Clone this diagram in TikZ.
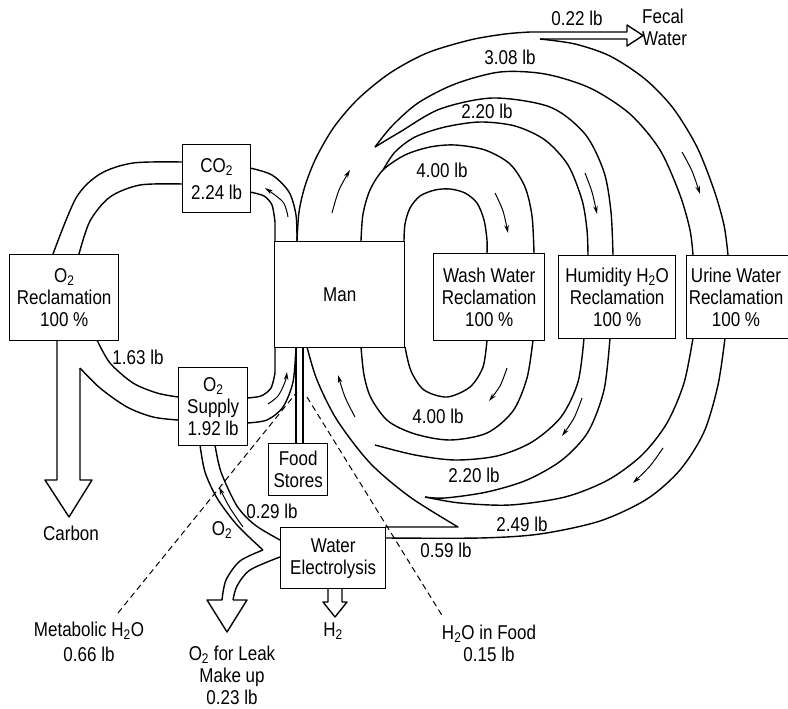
\documentclass[tikz,border=0pt]{standalone}
\usepackage{fontspec}
\setmainfont{Liberation Sans}[FakeStretch=0.85]
\usetikzlibrary{arrows.meta}

\begin{document}
\begin{tikzpicture}[x=1pt, y=-1pt,
  box/.style={draw, fill=white, line width=1.4pt, inner sep=0pt, align=center, anchor=north west, font=\fontsize{20}{22}\selectfont},
  lbl/.style={inner sep=0pt, align=center, font=\fontsize{20}{22}\selectfont},
  band/.style={line width=1.4pt, line join=round},
  flow/.style={line width=1pt, -{Stealth[length=8pt, width=4.5pt]}},
  feed/.style={line width=1pt, dash pattern=on 6pt off 4pt},
  ]
  \clip (0,0) rectangle (788,709);
  \fill[white] (0,0) rectangle (788,709);
  % CO2 loop
  \draw[band] plot[smooth] coordinates {(250,168) (272,175) (289,192) (296,215) (297,241)};
  \draw[band] plot[smooth] coordinates {(250,192) (264,196) (272,205) (275,222)} -- (275,373);
  \draw[band] plot[smooth] coordinates {(275,373) (271,388) (261,396) (247,398)};
  \draw[band] plot[smooth] coordinates {(182,162) (133,163) (100,174) (76,198) (53,254)};
  \draw[band] plot[smooth] coordinates {(182,184) (140,185) (110,197) (90,221) (79,254)};
  \draw[band] plot[smooth] coordinates {(97,340) (110,363) (133,383) (157,393) (178,397)};
  \draw[band] plot[smooth] coordinates {(80,368) (100,388) (127,407) (153,417) (178,420)};
  \draw[band] (57,340) -- (57,480) -- (45,480) -- (69,517) -- (92,480) -- (80,480) -- (80,368);
  \draw[band] plot[smooth] coordinates {(247,423) (267,420) (283,407) (293,382) (296,347)};
  \draw[band] (296,347) -- (296,443);
  \draw[band] (303,347) -- (303,443);
  % oxygen from electrolysis
  \draw[band] plot[smooth] coordinates {(200,445) (205,472) (217,498) (237,525) (263,550)};
  \draw[band] plot[smooth] coordinates {(215,445) (221,472) (237,506) (255,525) (280,540)};
  \draw[band] plot[smooth] coordinates {(263,550) (240,561) (226,580) (222,600)} -- (207,600) -- (227,632) -- (247,600) -- (233,600);
  \draw[band] plot[smooth] coordinates {(233,600) (237,586) (250,570) (280,557)};
  \draw[band] (328,588) -- (328,602) -- (323,602) -- (335,617) -- (347,602) -- (342,602) -- (342,588);
  % water loops, upper half
  \draw[band] plot[smooth] coordinates {(297,241) (299,212) (305,186) (316,158) (334,127) (358,99) (390,73) (427,53) (470,40) (505,34) (530,32)} -- (627,32) -- (627,25) -- (643,35.5) -- (627,46) -- (627,39) -- (540,39);
  \draw[band] plot[smooth] coordinates {(540,39) (575,44) (610,56) (645,79) (673,108) (697,147) (714,190) (724,225) (728,255)};
  \draw[band] plot[smooth] coordinates {(375,147) (392,126) (418,103) (455,84) (500,72) (545,74) (590,88) (630,114) (660,150) (680,195) (690,230) (693,255)};
  \draw[band] plot[smooth] coordinates {(375,147) (400,132) (440,109) (493,98) (550,107) (585,134) (604,172) (611,212) (613,255)};
  \draw[band] plot[smooth] coordinates {(383,170) (395,152) (415,137) (445,127) (480,122) (515,126) (545,140) (568,165) (582,200) (587,230) (588,255)};
  \draw[band] plot[smooth] coordinates {(361,241) (363,214) (370,190) (383,170) (405,155) (430,147) (455,145) (485,150) (510,164) (525,187) (532,216) (534,253)};
  \draw[band] plot[smooth] coordinates {(404,241) (405,224) (410,208) (420,196) (435,190) (450,189) (465,193) (477,203) (484,220) (487,240) (487,253)};
  % water loops, lower half
  \draw[band] plot[smooth] coordinates {(487,340) (483,367) (470,387) (447,397) (424,390) (411,371) (405,347)};
  \draw[band] plot[smooth] coordinates {(361,347) (364,375) (371,398) (388,421) (415,434) (450,440) (487,433) (513,411) (527,378) (533,340)};
  \draw[band] plot[smooth] coordinates {(375,445) (415,455) (455,460) (497,456) (532,442) (561,417) (578,382) (584,338)};
  \draw[band] plot[smooth] coordinates {(425,497) (445,498) (487,492) (527,480) (562,460) (588,432) (604,390) (610,338)};
  \draw[band] plot[smooth] coordinates {(425,497) (460,503) (510,505) (565,497) (608,480) (642,455) (667,423) (684,383) (693,338)};
  \draw[band] plot[smooth] coordinates {(385,538) (480,538) (540,534) (600,521) (647,499) (680,470) (704,432) (718,385) (725,338)};
  \draw[band] plot[smooth] coordinates {(307,347) (317,380) (337,420) (370,463) (410,497) (458,527)} -- (385,527);
  % flow arrows
  \draw[flow] plot[smooth] coordinates {(288,217) (283,202) (265,188)};
  \draw[flow] plot[smooth] coordinates {(268,404) (278,396) (285,382) (287,372)};
  \draw[flow] plot[smooth] coordinates {(243,527) (230,508) (219,487)};
  \draw[flow] plot[smooth] coordinates {(332,213) (339,190) (350,170)};
  \draw[flow] plot[smooth] coordinates {(682,152) (692,171) (700,194)};
  \draw[flow] plot[smooth] coordinates {(585,173) (592,192) (597,214)};
  \draw[flow] plot[smooth] coordinates {(495,193) (503,211) (508,233)};
  \draw[flow] plot[smooth] coordinates {(507,368) (500,386) (489,401)};
  \draw[flow] plot[smooth] coordinates {(582,398) (574,418) (562,436)};
  \draw[flow] plot[smooth] coordinates {(663,448) (650,466) (633,483)};
  \draw[flow] plot[smooth] coordinates {(355,417) (345,397) (338,375)};
  % dashed water feeds
  \coordinate (metTop) at (118,613);
  \coordinate (metEnd) at (297,392);
  \coordinate (foodTop) at (307,397);
  \coordinate (foodEnd) at (443,617);
  \draw[feed] (metTop) -- (metEnd);
  \draw[feed] (foodTop) -- (foodEnd);
  % boxes
  \node[box, minimum width=68pt, minimum height=68pt] (co2) at (182,144) {CO\textsubscript{2}\\[5pt]2.24 lb};
  \node[box, minimum width=109pt, minimum height=86pt] (o2rec) at (9,254) {O\textsubscript{2}\\Reclamation\\100 \%};
  \node[box, minimum width=69pt, minimum height=78pt] (o2sup) at (178,367) {O\textsubscript{2}\\Supply\\1.92 lb};
  \node[box, minimum width=130pt, minimum height=106pt] (man) at (274,241) {Man};
  \node[box, minimum width=111pt, minimum height=87pt] (wash) at (433,253) {Wash Water\\Reclamation\\100 \%};
  \node[box, minimum width=117pt, minimum height=83pt] (humid) at (558,255) {Humidity H\textsubscript{2}O\\Reclamation\\100 \%};
  \node[box, minimum width=114pt, minimum height=83pt] (urine) at (686,255) {};
  \node[lbl] (urineTxt) at (736,297) {Urine Water\\Reclamation\\100 \%};
  \node[box, minimum width=59pt, minimum height=52pt] (food) at (268,443) {Food\\Stores};
  \node[box, minimum width=105pt, minimum height=61pt] (elec) at (280,527) {Water\\Electrolysis};
  % labels
  \node[lbl] (carbon) at (71,533) {Carbon};
  \node[lbl] (lbOneSix) at (138,357) {1.63 lb};
  \node[lbl] (lbThree) at (510,57) {3.08 lb};
  \node[lbl] (lbHumUp) at (487,111) {2.20 lb};
  \node[lbl] (lbWashUp) at (442,170) {4.00 lb};
  \node[lbl] (lbFecal) at (577,18) {0.22 lb};
  \node[lbl, align=left, anchor=west] (fecal) at (642,27) {Fecal\\Water};
  \node[lbl] (lbWashDn) at (438,416) {4.00 lb};
  \node[lbl] (lbHumDn) at (474,475) {2.20 lb};
  \node[lbl] (lbUrine) at (522,524) {2.49 lb};
  \node[lbl] (lbElec) at (446,550) {0.59 lb};
  \node[lbl] (lbOxy) at (272,511) {0.29 lb};
  \node[lbl] (oxy) at (222,530) {O\textsubscript{2}};
  \node[lbl] (hyd) at (333,631) {H\textsubscript{2}};
  \node[lbl] (leak) at (232,675) {O\textsubscript{2} for Leak\\Make up\\0.23 lb};
  \node[lbl] (metab) at (89,642) {Metabolic H\textsubscript{2}O\\[3pt]0.66 lb};
  \node[lbl] (foodwat) at (489,643) {H\textsubscript{2}O in Food\\0.15 lb};
\end{tikzpicture}
\end{document}
